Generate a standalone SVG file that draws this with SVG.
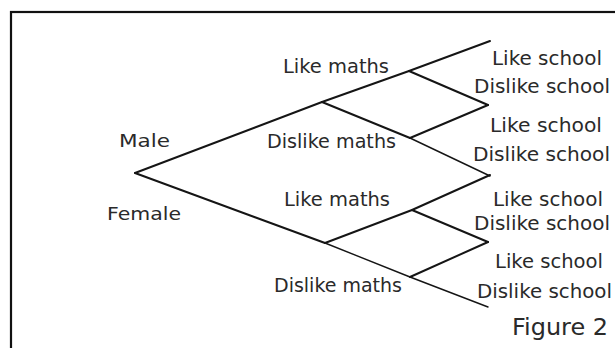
<svg xmlns="http://www.w3.org/2000/svg" width="615" height="348" viewBox="0 0 615 348">
<style>
.frame{fill:none;stroke:#111;stroke-width:2.2}
.br{fill:none;stroke:#151515;stroke-width:2;stroke-linecap:round;stroke-linejoin:round}
.thin{stroke-width:1.4}
text{font-family:"DejaVu Sans","Liberation Sans",sans-serif;fill:#2a2a2a;font-size:19px}
.g{font-size:18px}
.fig{font-size:23px}
</style>
<rect x="0" y="0" width="615" height="348" fill="#fff"/>
<rect class="frame" x="11" y="12" width="620" height="360"/>
<g id="connectors">
<line class="br" x1="135" y1="173" x2="322" y2="102"/>
<line class="br" x1="135" y1="173" x2="325" y2="243"/>
<polyline class="br" points="322,102 409,71 490,41"/>
<line class="br" x1="409" y1="71" x2="488" y2="105"/>
<polyline class="br" points="322,102 410,138"/>
<line class="br thin" x1="410" y1="138" x2="490" y2="176"/>
<line class="br" x1="410" y1="138" x2="488" y2="105"/>
<polyline class="br" points="325,243 412,210 490,175"/>
<line class="br" x1="412" y1="210" x2="488" y2="242"/>
<polyline class="br thin" points="325,243 410,277 488,307"/>
<line class="br" x1="410" y1="277" x2="488" y2="242"/>
</g>
<g id="male"><text class="g" x="119" y="147" textLength="51" lengthAdjust="spacingAndGlyphs">Male</text></g>
<g id="female"><text class="g" x="107" y="220" textLength="74" lengthAdjust="spacingAndGlyphs">Female</text></g>
<g id="m-like-maths"><text x="283" y="73" textLength="106" lengthAdjust="spacingAndGlyphs">Like maths</text></g>
<g id="m-dislike-maths"><text x="267" y="148" textLength="129" lengthAdjust="spacingAndGlyphs">Dislike maths</text></g>
<g id="f-like-maths"><text x="284" y="206" textLength="106" lengthAdjust="spacingAndGlyphs">Like maths</text></g>
<g id="f-dislike-maths"><text x="274" y="292" textLength="128" lengthAdjust="spacingAndGlyphs">Dislike maths</text></g>
<g id="s1"><text x="492" y="65" textLength="110" lengthAdjust="spacingAndGlyphs">Like school</text></g>
<g id="s2"><text x="474" y="93" textLength="136" lengthAdjust="spacingAndGlyphs">Dislike school</text></g>
<g id="s3"><text x="490" y="132" textLength="112" lengthAdjust="spacingAndGlyphs">Like school</text></g>
<g id="s4"><text x="473" y="161" textLength="137" lengthAdjust="spacingAndGlyphs">Dislike school</text></g>
<g id="s5"><text x="493" y="206" textLength="110" lengthAdjust="spacingAndGlyphs">Like school</text></g>
<g id="s6"><text x="474" y="230" textLength="136" lengthAdjust="spacingAndGlyphs">Dislike school</text></g>
<g id="s7"><text x="495" y="268" textLength="108" lengthAdjust="spacingAndGlyphs">Like school</text></g>
<g id="s8"><text x="477" y="298" textLength="135" lengthAdjust="spacingAndGlyphs">Dislike school</text></g>
<g id="caption"><text class="fig" x="512" y="335" textLength="96" lengthAdjust="spacingAndGlyphs">Figure 2</text></g>
</svg>
